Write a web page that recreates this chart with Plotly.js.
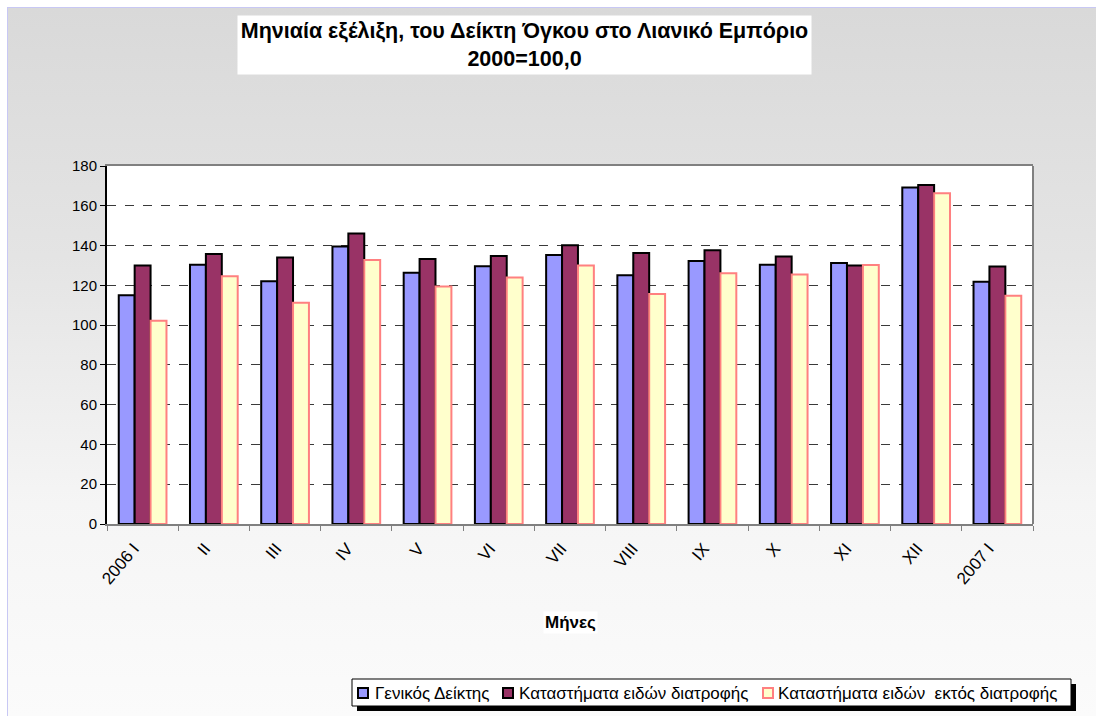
<!DOCTYPE html>
<html>
<head>
<meta charset="utf-8">
<script src="https://cdn.plot.ly/plotly-3.0.1.min.js"></script>
<style>
  html, body { margin:0; padding:0; background:#ffffff; width:1096px; height:716px; overflow:hidden; }
  #bg { position:absolute; left:7px; top:7px; width:1089px; height:709px;
        background: linear-gradient(to bottom, #d9d9d9 0%, #e4e4e4 35%, #f5f5f5 70%, #fbfbfb 100%);
        border-left:1px solid #c8c8f4; border-top:1px solid #c8c8f4; box-sizing:border-box; }
  #chart { position:absolute; left:0; top:0; width:1096px; height:716px; }
</style>
</head>
<body>
<div id="bg"></div>
<div id="chart"></div>
<script>
const months = ["2006 I","II","III","IV","V","VI","VII","VIII","IX","X","XI","XII","2007 I"];
const general = [115.0,130.3,122.1,139.5,126.3,129.6,135.3,125.1,132.2,130.3,131.2,169.2,121.8];
const food    = [130.0,135.8,134.0,146.0,133.3,134.7,140.2,136.3,137.7,134.5,130.0,170.5,129.5];
const nonfood = [102.2,124.6,111.2,132.8,119.4,124.0,130.0,115.7,126.1,125.5,130.2,166.3,114.7];
const seriesNames = ["Γενικός Δείκτης","Καταστήματα ειδών διατροφής","Καταστήματα ειδών  εκτός διατροφής"];
const fills = ['#9999ff','#993366','#ffffcc'];
const edges = ['#000000','#000000','#ff8080'];

const L = 107, R = 1033, T = 166, B = 524, W = 1096, H = 716;
const px = x => (x - L) / (R - L);
const py = y => (B - y) / (B - T);
const FONT = 'Liberation Sans, Arial, sans-serif';

const values = [general, food, nonfood];
const traces = values.map((v, i) => ({
  type:'bar', x:months, y:v, name:seriesNames[i],
  marker:{color:fills[i], line:{color:edges[i], width:2}}
}));

// custom legend (compact, like the original)
const legendSym = [357, 502, 762];
const legendTxt = [373, 517, 776];
const shapes = [
  {type:'line', xref:'paper', yref:'paper', x0:1, x1:1, y0:0, y1:1, line:{color:'#808080', width:2}},
  {type:'rect', xref:'paper', yref:'paper', x0:px(357), x1:px(1076), y0:py(684), y1:py(711),
   fillcolor:'#000000', line:{width:0}},
  {type:'rect', xref:'paper', yref:'paper', x0:px(352), x1:px(1071), y0:py(679), y1:py(706),
   fillcolor:'#ffffff', line:{color:'#000000', width:1}}
];
const annotations = [
  {xref:'paper', yref:'paper', x:px(524), y:py(45), xanchor:'center', yanchor:'middle',
   text:'<b>Μηνιαία εξέλιξη, του Δείκτη Όγκου στο Λιανικό Εμπόριο</b><br><b>2000=100,0</b>',
   showarrow:false, bgcolor:'#ffffff', width:567, height:52, borderpad:3,
   font:{size:21.5, family:FONT, color:'#000000'}},
  {xref:'paper', yref:'paper', x:0.5, y:py(622), xanchor:'center', yanchor:'middle',
   text:'<b>Μήνες</b>', showarrow:false, bgcolor:'#ffffff',
   font:{size:17, family:FONT, color:'#000000'}}
];
seriesNames.forEach((n, i) => {
  shapes.push({type:'rect', xref:'paper', yref:'paper',
    x0:px(legendSym[i]+1), x1:px(legendSym[i]+11), y0:py(688), y1:py(698),
    fillcolor:fills[i], line:{color:edges[i], width:2}});
  annotations.push({xref:'paper', yref:'paper', x:px(legendTxt[i]), y:py(693),
    xanchor:'left', yanchor:'middle', text:n, showarrow:false,
    font:{size:17, family:FONT, color:'#000000'}});
});

const layout = {
  width: W, height: H,
  margin:{l:L, r:W-R, t:T, b:H-B, pad:0},
  paper_bgcolor:'rgba(0,0,0,0)',
  plot_bgcolor:'#ffffff',
  font:{family:FONT, color:'#000000', size:14},
  barmode:'group', bargap:0.33, bargroupgap:0,
  showlegend:false,
  xaxis:{type:'category', tickangle:-50, tickson:'boundaries',
         ticks:'outside', ticklen:5, tickcolor:'#808080',
         ticklabelstandoff:6, ticklabelshift:-9,
         showline:true, linecolor:'#808080', linewidth:2, mirror:true,
         showgrid:false, tickfont:{size:17}, automargin:false},
  yaxis:{range:[0,180], dtick:20, tick0:0,
         ticks:'outside', ticklen:5, tickcolor:'#000000',
         showline:true, linecolor:'#000000', linewidth:2, mirror:false,
         showgrid:true, gridcolor:'#3a3a3a', griddash:'dash', gridwidth:1,
         zeroline:false, tickfont:{size:15}, automargin:false},
  shapes: shapes,
  annotations: annotations
};

Plotly.newPlot('chart', traces, layout, {displayModeBar:false, staticPlot:true});
</script>
</body>
</html>
